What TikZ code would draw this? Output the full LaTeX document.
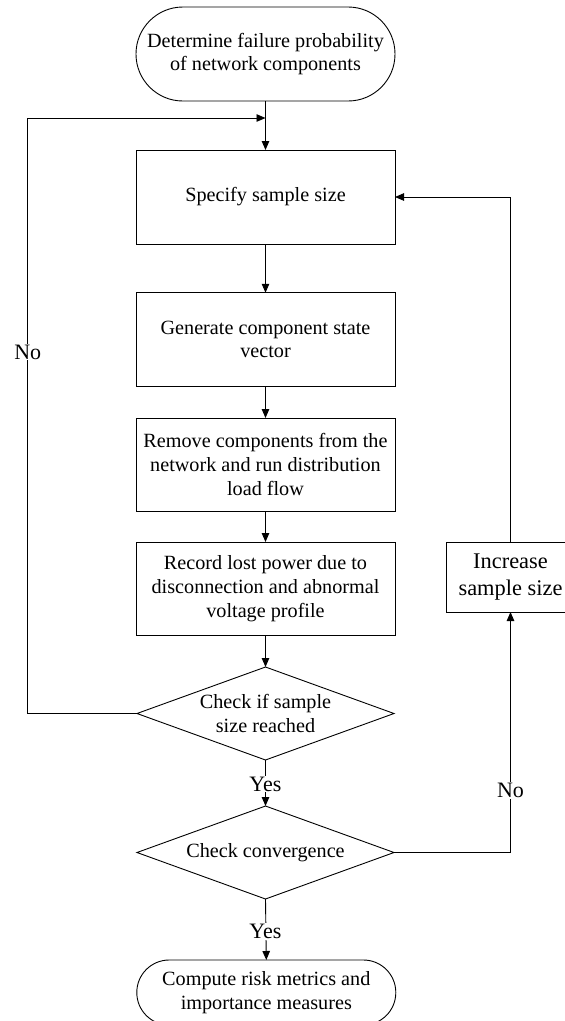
\documentclass[tikz,border=0pt]{standalone}
\usepackage{fontspec}
\setmainfont{Liberation Serif}
\usetikzlibrary{arrows.meta}
\begin{document}
\begin{tikzpicture}[x=1pt,y=-1pt,
  line width=0.9pt,
  every node/.style={inner sep=0pt,outer sep=0pt,align=center,font=\fontsize{20.2}{23.7}\selectfont},
  procbox/.style={draw,rectangle,minimum width=259pt},
  termbox/.style={draw,rectangle,minimum width=259pt},
  decbox/.style={rectangle,minimum width=257pt,minimum height=93pt},
  lbl/.style={fill=white,font=\fontsize{22}{26}\selectfont,inner sep=1pt},
  arr/.style={-{Triangle[length=9pt,width=7.5pt]}}
]
\clip (0,0) rectangle (565,1021);
\fill[white] (0,0) rectangle (565,1021);

\node[termbox,minimum height=94pt,rounded corners=46.9pt] (t1) at (265.5,54) {Determine failure probability\\of network components};
\node[procbox,minimum height=94pt] (b1) at (265.5,197) {Specify sample size};
\node[procbox,minimum height=93.5pt] (b2) at (265.5,339.5) {Generate component state\\vector};
\node[procbox,minimum height=93pt] (b3) at (265.5,464.5) {Remove components from the\\network and run distribution\\load flow};
\node[procbox,minimum height=93pt] (b4) at (265.5,588.5) {Record lost power due to\\disconnection and abnormal\\voltage profile};
\node[decbox] (d1) at (265.5,713.5) {Check if sample\\size reached};
\node[decbox] (d2) at (265.5,852.5) {Check convergence};
\draw (d1.west) -- (d1.north) -- (d1.east) -- (d1.south) -- cycle;
\draw (d2.west) -- (d2.north) -- (d2.east) -- (d2.south) -- cycle;
\node[termbox,minimum height=65pt,rounded corners=32.4pt] (t2) at (266.3,992.5) {Compute risk metrics and\\importance measures};
\node[procbox,minimum width=129pt,minimum height=70pt,font=\fontsize{22.4}{27.4}\selectfont] (inc) at (510.5,577) {Increase\\sample size};

\coordinate (merge) at (265.5,118);
\coordinate (lcorner) at (27.7,118);
\coordinate (rtop) at (510.5,197);

\draw[arr] (t1.south) -- (b1.north);
\draw[arr] (b1.south) -- (b2.north);
\draw[arr] (b2.south) -- (b3.north);
\draw[arr] (b3.south) -- (b4.north);
\draw[arr] (b4.south) -- (d1.north);

\draw[arr] (d1.west) -| (lcorner) -- (merge);
\node[lbl] (no1) at (27.7,352) {No};

\draw[arr] (d1.south) -- (d2.north);
\node[lbl] (yes1) at (265.5,784) {Yes};

\draw[arr] (d2.south) -- (t2.north);
\node[lbl] (yes2) at (265.5,931.5) {Yes};

\draw[arr] (d2.east) -| (inc.south);
\node[lbl] (no2) at (510.5,790.5) {No};

\draw[arr] (inc.north) -- (rtop) -- (b1.east);
\end{tikzpicture}
\end{document}
